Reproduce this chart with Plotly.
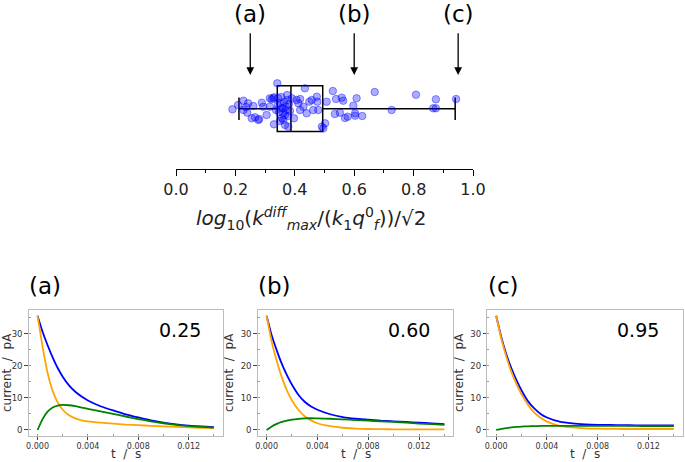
import plotly.graph_objects as go

# ---------------- data ----------------
# top: distribution of log10(k_max^diff/(k1 q_f^0))/sqrt(2)
kvals = [0.190, 0.227, 0.243, 0.260, 0.227, 0.240, 0.255, 0.266, 0.277, 0.289,
         0.294, 0.305, 0.316, 0.322, 0.330, 0.341, 0.330, 0.344, 0.350, 0.356,
         0.361, 0.361, 0.378, 0.370, 0.375, 0.367, 0.390, 0.397, 0.406, 0.412,
         0.418, 0.429, 0.434, 0.440, 0.449, 0.457, 0.462, 0.474, 0.479, 0.476,
         0.491, 0.502, 0.507, 0.528, 0.535, 0.539, 0.552, 0.558, 0.563, 0.578,
         0.597, 0.603, 0.608, 0.627, 0.669, 0.726, 0.808, 0.866, 0.875, 0.943,
         0.280, 0.316, 0.328, 0.496, 0.875, 0.343, 0.347, 0.357, 0.364, 0.370,
         0.377, 0.380, 0.350, 0.367, 0.384, 0.360, 0.374, 0.337, 0.354, 0.236,
         0.209, 0.418, 0.569, 0.603]
jitter = [-0.006, 0.080, 0.054, 0.027, -0.013, -0.040, -0.096, -0.086, -0.113, 0.060,
          0.020, -0.063, 0.020, 0.094, 0.114, 0.254, -0.156, 0.104, 0.054, 0.004,
          -0.046, -0.113, -0.180, 0.020, 0.087, -0.063, 0.104, -0.096, 0.087, 0.054,
          -0.013, 0.020, 0.204, -0.046, 0.070, 0.087, -0.013, 0.120, -0.013, 0.070,
          -0.180, -0.146, 0.070, 0.177, -0.053, 0.097, -0.040, 0.110, 0.080, -0.080,
          0.030, -0.046, 0.104, -0.073, 0.167, -0.013, 0.140, 0.004, 0.094, 0.097,
          -0.103, 0.104, 0.104, -0.196, 0.004, 0.037, -0.033, -0.093, 0.067, -0.013,
          -0.073, 0.047, -0.123, -0.163, -0.023, 0.007, 0.137, -0.013, 0.117, 0.017,
          0.037, 0.097, -0.093, -0.070]
box_stats = dict(lowerfence=0.212, q1=0.341, median=0.387, q3=0.494, upperfence=0.940)

panel_labels = ["(a)", "(b)", "(c)"]
panel_values = [0.25, 0.60, 0.95]

t = [0.0, 0.0004, 0.0008, 0.0012, 0.0016, 0.002, 0.0025, 0.003, 0.0035, 0.004,
     0.005, 0.006, 0.007, 0.008, 0.009, 0.010, 0.011, 0.012, 0.013, 0.014]

blue_a = [35.6, 30.6, 26.4, 22.6, 19.3, 16.6, 13.9, 11.9, 10.4, 9.2,
          7.4, 6.1, 4.9, 3.9, 3.0, 2.3, 1.75, 1.35, 1.1, 0.9]
orange_a = [35.6, 26.0, 17.8, 12.2, 8.6, 6.3, 4.6, 3.6, 3.0, 2.7,
            2.3, 2.0, 1.7, 1.5, 1.3, 1.1, 0.95, 0.8, 0.7, 0.6]
green_a = [0.0, 3.4, 5.7, 7.0, 7.6, 7.8, 7.7, 7.4, 7.0, 6.6,
           5.8, 5.0, 4.2, 3.4, 2.7, 2.1, 1.6, 1.2, 0.95, 0.75]

blue_b = [35.6, 29.5, 24.8, 20.6, 17.1, 14.1, 11.0, 8.8, 7.3, 6.3,
          4.9, 4.0, 3.5, 3.2, 2.9, 2.7, 2.5, 2.3, 2.05, 1.8]
orange_b = [35.6, 27.5, 21.5, 16.4, 12.3, 9.2, 6.3, 4.3, 3.0, 2.1,
            1.2, 0.7, 0.45, 0.3, 0.25, 0.2, 0.2, 0.2, 0.2, 0.2]
green_b = [0.0, 1.1, 1.9, 2.5, 2.9, 3.2, 3.45, 3.6, 3.65, 3.6,
           3.5, 3.3, 3.1, 2.9, 2.7, 2.5, 2.3, 2.0, 1.8, 1.6]

blue_c = [35.6, 29.0, 23.6, 19.2, 15.5, 12.3, 9.0, 6.7, 5.0, 3.9,
          2.6, 2.05, 1.75, 1.6, 1.55, 1.5, 1.45, 1.45, 1.4, 1.4]
orange_c = [35.6, 28.5, 22.8, 18.1, 14.3, 11.1, 7.9, 5.4, 3.8, 2.6,
            1.3, 0.8, 0.5, 0.4, 0.35, 0.3, 0.3, 0.3, 0.3, 0.3]
green_c = [0.0, 0.35, 0.6, 0.8, 0.95, 1.05, 1.15, 1.2, 1.25, 1.3,
           1.3, 1.3, 1.3, 1.3, 1.25, 1.25, 1.25, 1.2, 1.2, 1.2]

curves = [(blue_a, orange_a, green_a), (blue_b, orange_b, green_b), (blue_c, orange_c, green_c)]

# ---------------- figure ----------------
W, H = 685, 462
FONT = "DejaVu Sans"
fig = go.Figure()

# top panel
fig.add_trace(go.Scatter(
    x=kvals, y=jitter, mode="markers", xaxis="x", yaxis="y",
    marker=dict(size=7.5, color="rgba(0,0,255,0.33)",
                line=dict(color="rgba(0,0,255,0.4)", width=1)),
    showlegend=False, hoverinfo="skip"))
fig.add_trace(go.Box(
    orientation="h", y=[0], xaxis="x", yaxis="y",
    q1=[box_stats["q1"]], median=[box_stats["median"]], q3=[box_stats["q3"]],
    lowerfence=[box_stats["lowerfence"]], upperfence=[box_stats["upperfence"]],
    width=0.457, whiskerwidth=0.49, boxpoints=False,
    fillcolor="rgba(0,0,0,0)", line=dict(color="black", width=1.5),
    showlegend=False, hoverinfo="skip"))

fig.update_layout(
    xaxis=dict(domain=[176 / W, 473 / W], range=[0, 1], anchor="y", automargin=False,
               showline=True, linecolor="black", linewidth=1.3,
               ticks="outside", ticklen=6, tickwidth=1.3, tickcolor="black",
               tickvals=[0, 0.2, 0.4, 0.6, 0.8, 1.0], ticktext=["0.0", "0.2", "0.4", "0.6", "0.8", "1.0"],
               minor=dict(ticks="outside", ticklen=3, tickwidth=1, tickcolor="black", dtick=0.1, tick0=0),
               showgrid=False, zeroline=False,
               tickfont=dict(family=FONT, size=16, color="#222")),
    yaxis=dict(domain=[1 - 169 / H, 1], range=[-0.603, 1.087], anchor="x", automargin=False,
               visible=False, fixedrange=True),
)

# arrows and labels
annotations = []
for lab, v in zip(panel_labels, panel_values):
    annotations.append(dict(x=v, y=0.337, ax=v, ay=0.77, xref="x", yref="y", axref="x", ayref="y",
                            text="", showarrow=True, arrowhead=2, arrowsize=1.2, arrowwidth=1.3,
                            arrowcolor="black"))
    annotations.append(dict(x=v, y=0.947, xref="x", yref="y", text=lab, showarrow=False,
                            font=dict(family=FONT, size=23, color="black")))

# top axis title
annotations.append(dict(
    x=311 / W, y=1 - 218 / H, xref="paper", yref="paper", showarrow=False,
    xanchor="center", yanchor="middle",
    text="<i>log</i><sub>10</sub>(<i>k</i><sup><i>diff</i></sup><sub><i>max</i></sub>"
         "/(<i>k</i><sub>1</sub><i>q</i><sup>0</sup><sub><i>f</i></sub>))/√2",
    font=dict(family=FONT, size=20, color="#222")))

# bottom panels
xdoms = [(28.7, 222.7), (257.7, 453.3), (487.3, 682.7)]
ydom = [1 - 435.7 / H, 1 - 310 / H]
colors = ["blue", "orange", "green"]
for i, ((x0, x1), crv, lab, val) in enumerate(zip(xdoms, curves, panel_labels, panel_values)):
    xa = f"x{i + 2}"
    ya = f"y{i + 2}"
    for yvals, c in zip(crv, colors):
        fig.add_trace(go.Scatter(x=t, y=yvals, mode="lines", xaxis=xa, yaxis=ya,
                                 line=dict(color=c, width=1.8, shape="spline", smoothing=0.5),
                                 showlegend=False, hoverinfo="skip"))
    fig.layout[f"xaxis{i + 2}"] = dict(
        domain=[x0 / W, x1 / W], range=[-0.0007, 0.0147], anchor=ya, automargin=False,
        showline=True, mirror=True, linecolor="#bbbbbb", linewidth=1,
        ticks="outside", ticklen=3, tickcolor="#444", tickwidth=1,
        tickvals=[0, 0.004, 0.008, 0.012], ticktext=["0.000", "0.004", "0.008", "0.012"],
        minor=dict(ticks="inside", ticklen=2, tickcolor="#999", dtick=0.002, tick0=0),
        showgrid=False, zeroline=False,
        tickfont=dict(family=FONT, size=8, color="#333"))
    fig.layout[f"yaxis{i + 2}"] = dict(
        domain=ydom, range=[-1.78, 37.38], anchor=xa, automargin=False,
        showline=True, mirror=True, linecolor="#bbbbbb", linewidth=1,
        ticks="outside", ticklen=3.5, tickcolor="#444", tickwidth=1,
        tickvals=[0, 10, 20, 30],
        minor=dict(ticks="inside", ticklen=2, tickcolor="#999", dtick=5, tick0=0),
        showgrid=False, zeroline=False,
        tickfont=dict(family=FONT, size=8.5, color="#333"),
        title=dict(text="current\u00a0\u00a0/\u00a0\u00a0pA", font=dict(family=FONT, size=12, color="#333"), standoff=4))
    # x-axis title as annotation for exact placement
    annotations.append(dict(x=(x0 + x1) / 2 / W, y=1 - 462 / H, xref="paper", yref="paper",
                            text="t\u00a0\u00a0/\u00a0\u00a0s", showarrow=False,
                            xanchor="center", yanchor="bottom", borderpad=0,
                            font=dict(family=FONT, size=12, color="#333")))
    annotations.append(dict(x=x0 / W - 0.002, y=1 - 286 / H, xref="paper", yref="paper", text=lab,
                            showarrow=False, xanchor="left", yanchor="middle",
                            font=dict(family=FONT, size=23, color="black")))
    annotations.append(dict(x=(x0 + 174) / W, y=1 - 330 / H, xref="paper", yref="paper",
                            text=f"{val:.2f}", showarrow=False, xanchor="right", yanchor="middle",
                            font=dict(family=FONT, size=19, color="black")))

fig.update_layout(
    width=W, height=H, margin=dict(l=0, r=0, t=0, b=0),
    paper_bgcolor="white", plot_bgcolor="white",
    annotations=annotations, showlegend=False,
    font=dict(family=FONT),
)

fig.write_html("out.html", config={"displayModeBar": False},
               post_script="document.body.style.margin='0';document.body.style.overflow='hidden';")
